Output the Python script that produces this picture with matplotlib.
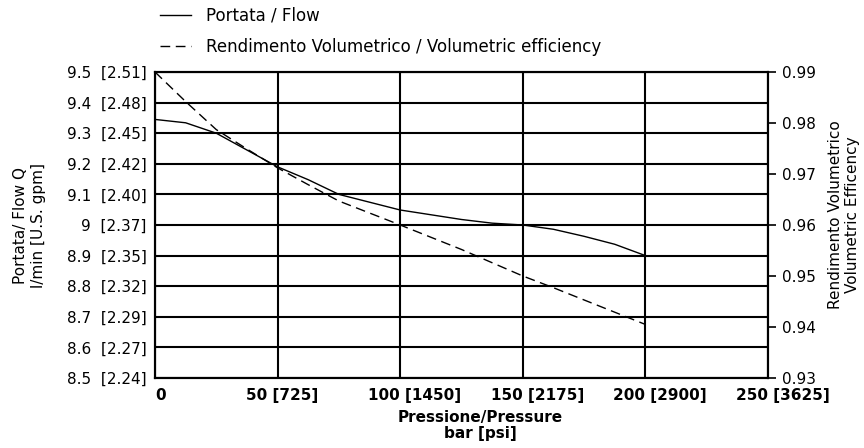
import matplotlib.pyplot as plt
from matplotlib.transforms import ScaledTranslation

# values
pressure = [0, 12.5, 25, 37.5, 50, 62.5, 75, 100, 125, 137.5, 150, 162.5, 175, 187.5, 200]
flow = [9.345, 9.334, 9.30, 9.245, 9.19, 9.148, 9.10, 9.049, 9.018, 9.006, 9.0, 8.986,
        8.963, 8.937, 8.90]
efficiency = [0.99, 0.9842, 0.9787, 0.9749, 0.9712, 0.9679, 0.9647, 0.96, 0.9552, 0.9526,
              0.95, 0.9477, 0.9453, 0.9429, 0.9405]

x_ticks = [0, 50, 100, 150, 200, 250]
x_labels = ['0', '50 [725]', '100 [1450]', '150 [2175]', '200 [2900]', '250 [3625]']
flow_ticks = [9.5, 9.4, 9.3, 9.2, 9.1, 9.0, 8.9, 8.8, 8.7, 8.6, 8.5]
flow_labels = ['9.5  [2.51]', '9.4  [2.48]', '9.3  [2.45]', '9.2  [2.42]', '9.1  [2.40]',
               '9  [2.37]', '8.9  [2.35]', '8.8  [2.32]', '8.7  [2.29]', '8.6  [2.27]', '8.5  [2.24]']
eff_ticks = [0.93, 0.94, 0.95, 0.96, 0.97, 0.98, 0.99]

plt.rcParams['font.family'] = 'DejaVu Sans'
plt.rcParams['font.size'] = 11

fig = plt.figure(figsize=(8.64, 4.48), dpi=100)
ax = fig.add_axes([155/864, 1-378/448, 613/864, 306/448])
ax2 = ax.twinx()

l1, = ax.plot(pressure, flow, '-', color='black', lw=1.0, label='Portata / Flow')
l2, = ax2.plot(pressure, efficiency, color='black', lw=1.0, dashes=(7, 4),
               label='Rendimento Volumetrico / Volumetric efficiency')

ax.set_xlim(0, 250)
ax.set_ylim(8.5, 9.5)
ax2.set_ylim(0.93, 0.99)

ax.set_xticks(x_ticks)
ax.set_xticklabels(x_labels, fontweight='bold')
ax.set_yticks(flow_ticks)
ax.set_yticklabels(flow_labels)
ax2.set_yticks(eff_ticks)
ax2.set_yticklabels(['%.2f' % t for t in eff_ticks])

ax.grid(True, color='black', lw=1.5)
for a in (ax, ax2):
    for s in a.spines.values():
        s.set_linewidth(1.5)
ax.tick_params(axis='x', length=0, pad=7)
ax.tick_params(axis='y', length=0, pad=6)
ax2.tick_params(axis='y', length=6, width=1.2, pad=4, direction='out')

# labels start a bit left of their tick, except the zero
for i, lab in enumerate(ax.get_xticklabels()):
    lab.set_horizontalalignment('left')
    if i > 0:
        lab.set_transform(lab.get_transform() + ScaledTranslation(-32/100, 0, fig.dpi_scale_trans))

ax.set_ylabel('Portata/ Flow Q\nl/min [U.S. gpm]')
ax.yaxis.set_label_coords(-0.178, 0.5)
ax2.set_ylabel('Rendimento Volumetrico\nVolumetric Efficency')
ax2.yaxis.set_label_coords(1.098, 0.535)
ax.set_xlabel('Pressione/Pressure\nbar [psi]', fontweight='bold', linespacing=1.1)
ax.xaxis.set_label_coords(0.53, -0.105)

fig.legend(handles=[l1, l2], loc='upper left', bbox_to_anchor=(160/864, 1-7/448),
           frameon=False, fontsize=12, borderpad=0, borderaxespad=0,
           labelspacing=0.8, handlelength=1.85, handletextpad=0.9)

fig.savefig('out.png', dpi=100)
